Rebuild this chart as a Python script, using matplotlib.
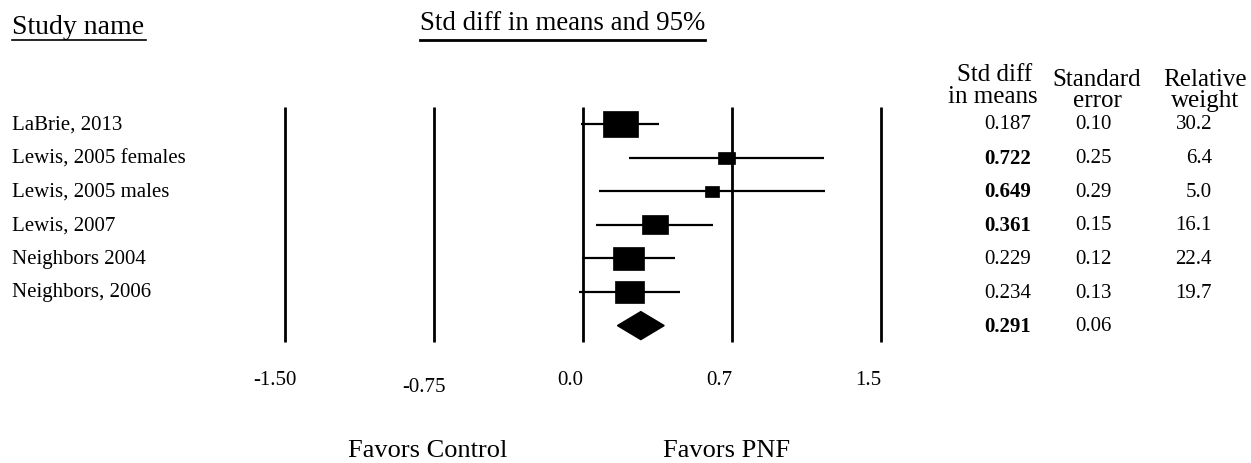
import numpy as np
import matplotlib.pyplot as plt
from matplotlib.patches import Rectangle, Polygon

plt.rcParams['font.family'] = ['Liberation Serif', 'DejaVu Serif']

# data
studies = ['LaBrie, 2013', 'Lewis, 2005 females', 'Lewis, 2005 males',
           'Lewis, 2007', 'Neighbors 2004', 'Neighbors, 2006']
effects = [0.187, 0.722, 0.649, 0.361, 0.229, 0.234]
std_err = [0.10, 0.25, 0.29, 0.15, 0.12, 0.13]
weights = [30.2, 6.4, 5.0, 16.1, 22.4, 19.7]
pooled_effect = 0.291
pooled_se = 0.06
tick_vals = [-1.5, -0.75, 0.0, 0.75, 1.5]
tick_labels = ['-1.50', '-0.75', '0.0', '0.7', '1.5']

W, H = 1251, 464
x0, px_unit = 583, 198.7      # pixel of zero, pixels per unit
y0, px_row = 125, 33.6        # pixel of first row, pixels per row

fig = plt.figure(figsize=(W / 100, H / 100), dpi=100)
ax = fig.add_axes([0, 0, 1, 1])
ax.set_xlim(-x0 / px_unit, (W - x0) / px_unit)
ax.set_ylim((H - y0) / px_row, -y0 / px_row)
ax.axis('off')

def fx(px):
    return px / W

def fy(py):
    return 1 - py / H

n = len(studies)

# vertical reference lines
ax.vlines(tick_vals, -0.5, n + 0.48, color='black', lw=2.0)

# study rows
for i, (e, se, w) in enumerate(zip(effects, std_err, weights)):
    lo, hi = e - 1.96 * se, e + 1.96 * se
    ax.plot([lo, hi], [i, i], color='black', lw=1.6, solid_capstyle='butt')
    side = 6.4 * np.sqrt(w)
    bw = side / px_unit
    bh = 0.75 * side / px_row
    ax.add_patch(Rectangle((e - bw / 2, i - bh / 2), bw, bh,
                           facecolor='black', edgecolor='black', lw=0.5))

# pooled diamond
lo, hi = pooled_effect - 1.96 * pooled_se, pooled_effect + 1.96 * pooled_se
dh = 14 / px_row
ax.add_patch(Polygon([[lo, n], [pooled_effect, n - dh], [hi, n],
                      [pooled_effect, n + dh]], closed=True, color='black'))

# headers
fig.text(fx(12), fy(27), 'Study name', fontsize=20, va='center', ha='left')
ax.plot([12 / W, 146 / W], [fy(41), fy(41)], transform=ax.transAxes,
        color='black', lw=1.2)
fig.text(fx(420), fy(24), 'Std diff in means and 95%', fontsize=19.4,
         va='center', ha='left')
ax.plot([420 / W, 705 / W], [fy(41), fy(41)], transform=ax.transAxes,
        color='black', lw=2.0)

fig.text(fx(995), fy(75), 'Std diff', fontsize=18, va='center', ha='center')
fig.text(fx(993), fy(97), 'in means', fontsize=18, va='center', ha='center')
fig.text(fx(1097), fy(80), 'Standard', fontsize=18, va='center', ha='center')
fig.text(fx(1097), fy(101), 'error', fontsize=18, va='center', ha='center')
fig.text(fx(1205), fy(80), 'Relative', fontsize=18, va='center', ha='center')
fig.text(fx(1205), fy(101), 'weight', fontsize=18, va='center', ha='center')

# table rows
for i in range(n):
    yy = fy(y0 + i * px_row)
    sig = abs(effects[i] / std_err[i]) > 1.96
    fig.text(fx(12), yy, studies[i], fontsize=15, va='center', ha='left')
    fig.text(fx(1031), yy, f'{effects[i]:.3f}', fontsize=15, va='center',
             ha='right', fontweight='bold' if sig else 'normal')
    fig.text(fx(1112), yy, f'{std_err[i]:.2f}', fontsize=15, va='center',
             ha='right')
    fig.text(fx(1212), yy, f'{weights[i]:.1f}', fontsize=15, va='center',
             ha='right')

yy = fy(y0 + n * px_row)
fig.text(fx(1031), yy, f'{pooled_effect:.3f}', fontsize=15, va='center',
         ha='right', fontweight='bold')
fig.text(fx(1112), yy, f'{pooled_se:.2f}', fontsize=15, va='center',
         ha='right')

# axis labels
label_shift = [-10, -10, -13, -13, -13]
label_y = [381, 388, 381, 381, 381]
for v, lab, dx, ly in zip(tick_vals, tick_labels, label_shift, label_y):
    fig.text(fx(x0 + v * px_unit + dx), fy(ly), lab, fontsize=15,
             va='center', ha='center')

fig.text(fx(428), fy(451), 'Favors Control', fontsize=19, va='center',
         ha='center')
fig.text(fx(727), fy(451), 'Favors PNF', fontsize=19, va='center',
         ha='center')

fig.savefig('out.png', dpi=100)
